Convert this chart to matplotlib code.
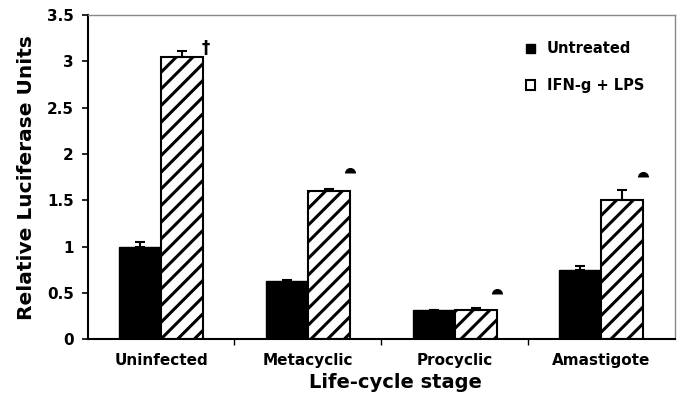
import numpy as np
import matplotlib.pyplot as plt
from matplotlib.patches import Patch

stages = ['Uninfected', 'Metacyclic', 'Procyclic', 'Amastigote']
untreated = [1.0, 0.63, 0.32, 0.75]
untreated_err = [0.05, 0.01, 0.0, 0.04]
treated = [3.05, 1.6, 0.32, 1.5]
treated_err = [0.06, 0.02, 0.02, 0.11]
marks = ['†', 'dot', 'dot', 'dot']
mark_y = [3.15, 1.79, 0.49, 1.75]

plt.rcParams['hatch.linewidth'] = 2.2
plt.rcParams['font.family'] = 'DejaVu Sans'
plt.rcParams['font.weight'] = 'bold'

fig = plt.figure(figsize=(6.85, 4), dpi=100)
ax = fig.add_axes([0.128, 0.152, 0.857, 0.81])

x = np.arange(len(stages))
w = 0.286
ax.bar(x - w/2, untreated, w, color='black', edgecolor='black', linewidth=1)
ax.bar(x + w/2, treated, w, color='white', edgecolor='black', hatch='//', linewidth=1.5)
ax.errorbar(x - w/2, untreated, yerr=[np.zeros(4), untreated_err], fmt='none',
            ecolor='black', elinewidth=1.5, capsize=3.7, capthick=1.5)
ax.errorbar(x + w/2, treated, yerr=[np.zeros(4), treated_err], fmt='none',
            ecolor='black', elinewidth=1.5, capsize=3.7, capthick=1.5)

for i in range(len(stages)):
    if marks[i] == '†':
        ax.text(x[i] + w + 0.02, mark_y[i], '†', fontsize=12, ha='center', va='center')
    else:
        ax.plot(x[i] + w, mark_y[i], marker='o', fillstyle='top', markersize=8,
                markerfacecolor='black', markeredgecolor='none')

ax.set_xlim(-0.5, 3.5)
ax.set_ylim(0, 3.5)
ax.set_yticks([0, 0.5, 1, 1.5, 2, 2.5, 3, 3.5])
ax.set_yticklabels(['0', '0.5', '1', '1.5', '2', '2.5', '3', '3.5'], fontsize=11)
ax.set_xticks(x)
ax.set_xticklabels(stages, fontsize=11)
ax.tick_params(axis='x', length=0, pad=10)
ax.set_xticks([0.5, 1.5, 2.5], minor=True)
ax.tick_params(axis='x', which='minor', length=4, width=1)
ax.tick_params(axis='y', length=4, width=1.2, direction='out', pad=6)

for s in ['top', 'right']:
    ax.spines[s].set_color('#888888')
    ax.spines[s].set_linewidth(1)
for s in ['left', 'bottom']:
    ax.spines[s].set_color('black')
    ax.spines[s].set_linewidth(1.5)

ax.set_ylabel('Relative Luciferase Units', fontsize=14.5, fontweight='bold', labelpad=8)
ax.set_xlabel('Life-cycle stage', fontsize=14, fontweight='bold', labelpad=3)
ax.xaxis.set_label_coords(0.525, -0.105)

handles = [Patch(facecolor='black', edgecolor='black'),
           Patch(facecolor='white', edgecolor='black', linewidth=1.5)]
ax.legend(handles, ['Untreated', 'IFN-g + LPS'], loc='upper right',
          bbox_to_anchor=(0.97, 0.96), frameon=False, fontsize=10.5,
          handlelength=0.6, handleheight=0.6, handletextpad=0.8, labelspacing=1.5)

fig.savefig('out.png', dpi=100)
